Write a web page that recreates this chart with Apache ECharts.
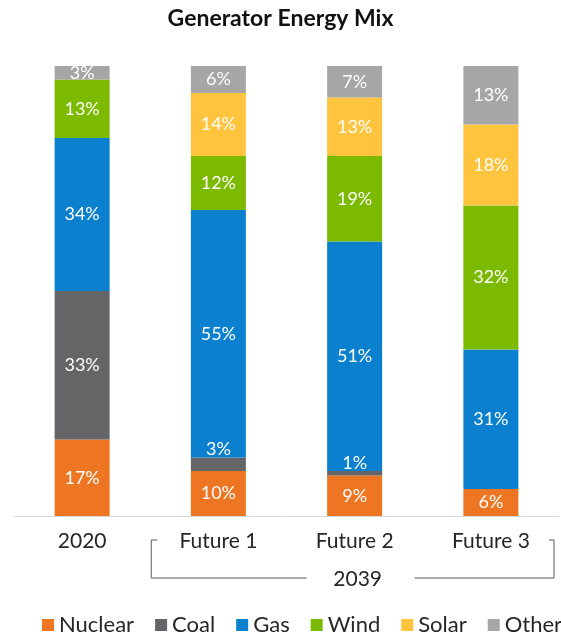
<!DOCTYPE html>
<html>
<head>
<meta charset="utf-8">
<script src="https://cdn.jsdelivr.net/npm/echarts@6/dist/echarts.min.js"></script>
<style>
  html, body { margin: 0; padding: 0; background: #fff; }
  #main { width: 561px; height: 636px; }
</style>
</head>
<body>
<div id="main"></div>
<script>
// categories and values (%)
const categories = ['2020', 'Future 1', 'Future 2', 'Future 3']
const groupLabel = '2039'
const nuclear = [17, 10, 9, 6]
const coal = [33, 3, 1, 0]
const gas = [34, 55, 51, 31]
const wind = [13, 12, 19, 32]
const solar = [0, 14, 13, 18]
const other = [3, 6, 7, 13]

const seriesDefs = [
  { name: 'Nuclear', data: nuclear, color: '#EE7623' },
  { name: 'Coal', data: coal, color: '#656568' },
  { name: 'Gas', data: gas, color: '#0A80CE' },
  { name: 'Wind', data: wind, color: '#7CBA00' },
  { name: 'Solar', data: solar, color: '#FFC43D' },
  { name: 'Other', data: other, color: '#A6A6A6' }
]

const FONT = 'Lato, "Open Sans", sans-serif'
const myChart = echarts.init(document.getElementById('main'))

myChart.setOption({
  animation: false,
  title: {
    text: 'Generator Energy Mix',
    left: 'center',
    top: 2,
    textStyle: { fontFamily: FONT, fontSize: 23, fontWeight: 'bold', color: '#111' }
  },
  legend: {
    top: 614,
    left: 42,
    width: 560,
    padding: 0,
    itemWidth: 12,
    itemHeight: 12,
    itemGap: 21,
    icon: 'rect',
    textStyle: { fontFamily: FONT, fontSize: 22, color: '#262626' },
    data: seriesDefs.map(s => s.name)
  },
  grid: { top: 66, left: 14, right: 2, bottom: 120 },
  xAxis: {
    type: 'category',
    data: categories,
    axisLine: { lineStyle: { color: '#d9d9d9', width: 1 } },
    axisTick: { show: false },
    axisLabel: { fontFamily: FONT, fontSize: 21, color: '#262626', margin: 15 }
  },
  yAxis: {
    type: 'value',
    min: 0,
    max: 100,
    show: false
  },
  series: seriesDefs.map(s => ({
    name: s.name,
    type: 'bar',
    stack: 'mix',
    barWidth: 55,
    itemStyle: { color: s.color },
    label: {
      show: true,
      position: 'inside',
      color: '#fff',
      fontFamily: FONT,
      fontSize: 18,
      formatter: p => (p.value > 0 ? p.value + '%' : '')
    },
    data: s.data.map(v => v > 0 && v < 5 && s.name === 'Coal'
      ? { value: v, label: { position: 'top', distance: -1 } }
      : v)
  }))
})

// bracket grouping the 2039 scenarios
function drawBracket() {
  const x1 = myChart.convertToPixel({ xAxisIndex: 0 }, categories[1])
  const x3 = myChart.convertToPixel({ xAxisIndex: 0 }, categories[3])
  const band = myChart.convertToPixel({ xAxisIndex: 0 }, categories[2]) - x1
  const left = x1 - band / 2 + 1
  const right = x3 + band / 2 - 5
  const mid = (x1 + x3) / 2 + 3
  const yTop = 540
  const yLine = 578
  const stroke = { stroke: '#595959', lineWidth: 1 }
  myChart.setOption({
    graphic: [
      { type: 'polyline', silent: true, shape: { points: [[left + 6, yTop], [left, yTop], [left, yLine], [mid - 51, yLine]] }, style: Object.assign({ fill: null }, stroke) },
      { type: 'polyline', silent: true, shape: { points: [[mid + 57, yLine], [right, yLine], [right, yTop], [right - 5, yTop]] }, style: Object.assign({ fill: null }, stroke) },
      { type: 'text', silent: true, x: mid, y: yLine + 1, style: { text: groupLabel, fontFamily: FONT, fontSize: 21, fill: '#262626', align: 'center', verticalAlign: 'middle' } }
    ]
  })
}
drawBracket()
</script>
</body>
</html>
